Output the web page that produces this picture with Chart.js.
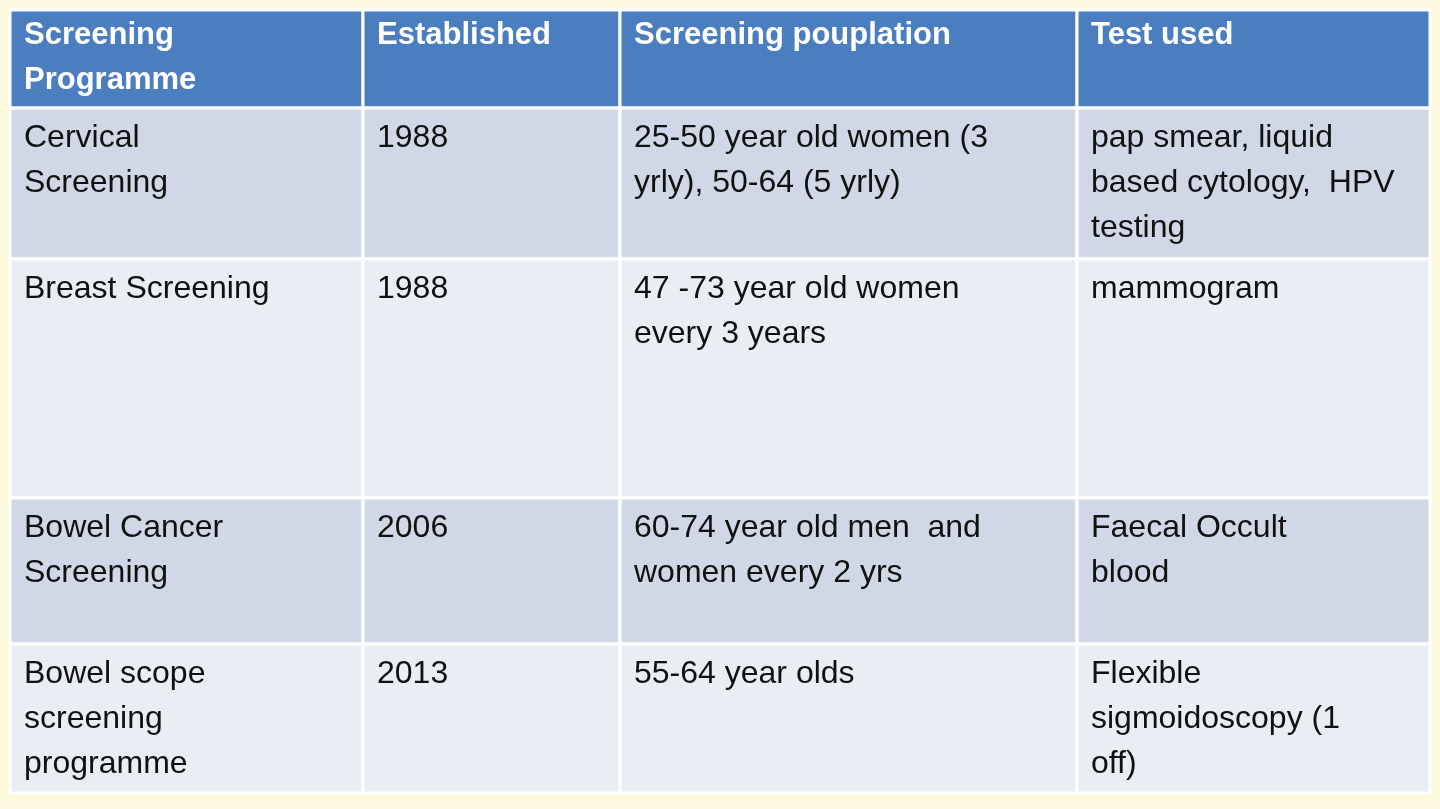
<!DOCTYPE html>
<html>
<head>
<meta charset="utf-8">
<script src="https://cdn.jsdelivr.net/npm/chart.js@4"></script>
<style>
html,body{margin:0;padding:0;background:#fdf9de;}
#wrap{width:1440px;height:809px;}
</style>
</head>
<body>
<div id="wrap"><canvas id="tbl"></canvas></div>
<script>
// table content
const headers = [["Screening", "Programme"], ["Established"], ["Screening pouplation"], ["Test used"]];
const programmes = [["Cervical", "Screening"], ["Breast Screening"], ["Bowel Cancer", "Screening"], ["Bowel scope", "screening", "programme"]];
const established = [["1988"], ["1988"], ["2006"], ["2013"]];
const populations = [["25-50 year old women (3", "yrly), 50-64 (5 yrly)"], ["47 -73 year old women", "every 3 years"], ["60-74 year old men  and", "women every 2 yrs"], ["55-64 year olds"]];
const tests = [["pap smear, liquid", "based cytology,  HPV", "testing"], ["mammogram"], ["Faecal Occult", "blood"], ["Flexible", "sigmoidoscopy (1", "off)"]];

// grid edges in scale units
const colEdges = [10, 363, 620, 1077, 1430];
const rowEdges = [10, 108, 259, 498, 644, 793];

const tablePlugin = {
  id: "tablePlugin",
  beforeDatasetsDraw(chart) {
    const ctx = chart.ctx, xs = chart.scales.x, ys = chart.scales.y;
    const cols = [programmes, established, populations, tests];
    ctx.save();
    for (let r = 0; r < rowEdges.length - 1; r++) {
      const y0 = ys.getPixelForValue(rowEdges[r]), y1 = ys.getPixelForValue(rowEdges[r + 1]);
      for (let c = 0; c < colEdges.length - 1; c++) {
        const x0 = xs.getPixelForValue(colEdges[c]), x1 = xs.getPixelForValue(colEdges[c + 1]);
        ctx.fillStyle = r === 0 ? "#4a7ebf" : (r % 2 === 1 ? "#d0d8e8" : "#e9edf4");
        ctx.fillRect(x0, y0, x1 - x0, y1 - y0);
        ctx.strokeStyle = "#ffffff";
        ctx.lineWidth = 3;
        ctx.strokeRect(x0, y0, x1 - x0, y1 - y0);
        const lines = r === 0 ? headers[c] : cols[c][r - 1];
        ctx.fillStyle = r === 0 ? "#ffffff" : "#111111";
        ctx.font = r === 0 ? "bold 31px 'Liberation Sans', Arial, sans-serif" : "32px 'Liberation Sans', Arial, sans-serif";
        ctx.textBaseline = "middle";
        const off = r === 0 ? 25 : 30;
        lines.forEach((t, i) => ctx.fillText(t, x0 + 14, y0 + off + i * 45));
      }
    }
    ctx.restore();
  }
};

new Chart(document.getElementById("tbl"), {
  type: "scatter",
  data: { datasets: [{ data: [], pointRadius: 0 }] },
  options: {
    responsive: true,
    maintainAspectRatio: false,
    animation: false,
    layout: { padding: 0 },
    plugins: { legend: { display: false }, tooltip: { enabled: false } },
    scales: {
      x: { type: "linear", min: 0, max: 1440, display: false },
      y: { type: "linear", min: 0, max: 809, reverse: true, display: false }
    }
  },
  plugins: [tablePlugin]
});
</script>
</body>
</html>
